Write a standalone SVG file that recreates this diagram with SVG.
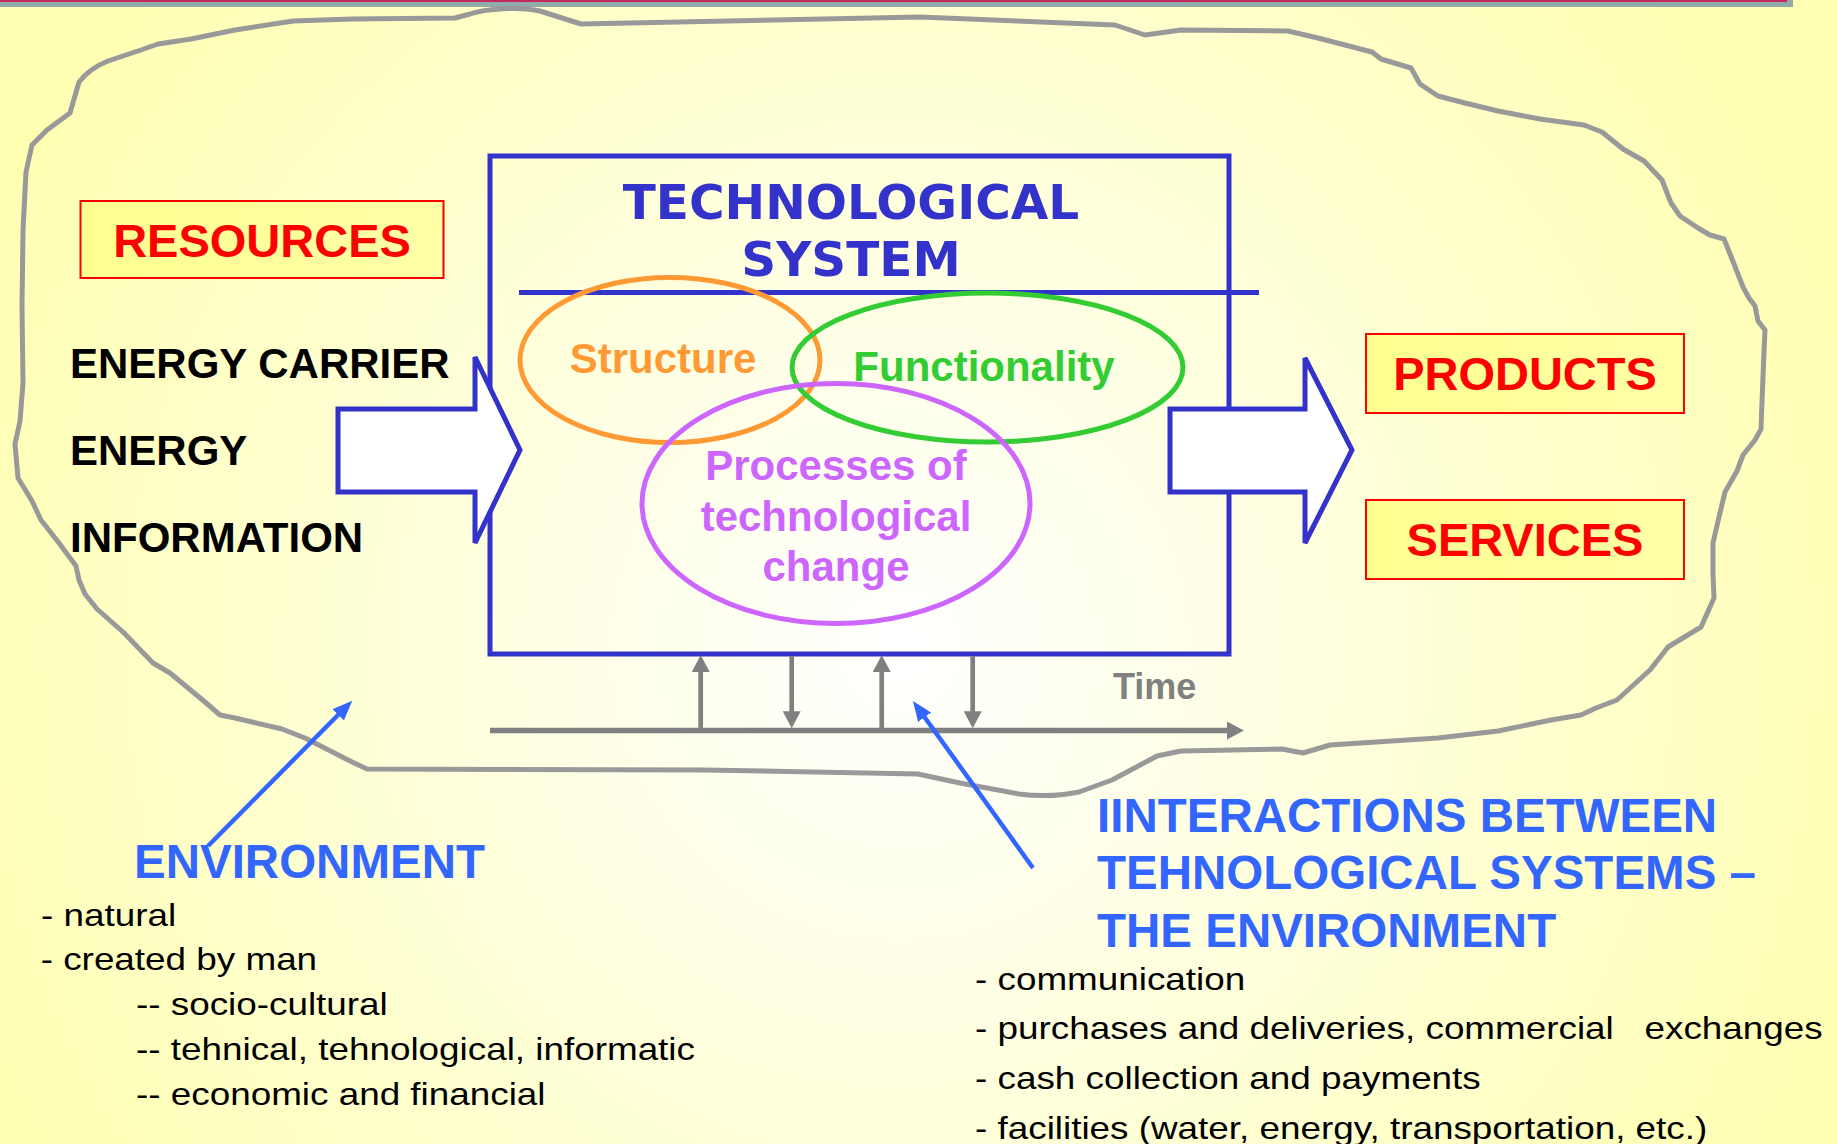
<svg xmlns="http://www.w3.org/2000/svg" width="1837" height="1144" viewBox="0 0 1837 1144">
<defs>
  <radialGradient id="bg" gradientUnits="userSpaceOnUse" cx="900" cy="650" r="1000">
    <stop offset="0" stop-color="#FFFFFF"/>
    <stop offset="1" stop-color="#FFFFB4"/>
  </radialGradient>
  <linearGradient id="boxfill" x1="0" y1="0" x2="1" y2="0">
    <stop offset="0" stop-color="#FFFF90"/>
    <stop offset="1" stop-color="#FFFFA8"/>
  </linearGradient>
  <marker id="blueHead" viewBox="0 0 20 16" refX="4" refY="8" markerWidth="20" markerHeight="16" markerUnits="userSpaceOnUse" orient="auto">
    <path d="M0,0 L20,8 L0,16 z" fill="#3366FF"/>
  </marker>
  <marker id="grayHead" viewBox="0 0 17 18" refX="3" refY="9" markerWidth="17" markerHeight="18" markerUnits="userSpaceOnUse" orient="auto">
    <path d="M0,0 L17,9 L0,18 z" fill="#808080"/>
  </marker>
  <style>
    .bold { font-family: "Liberation Sans", Arial, sans-serif; font-weight: bold; }
    .title { font-family: "DejaVu Sans", Verdana, sans-serif; font-weight: bold; font-size: 48.5px; fill: #3333CC; text-anchor: middle; }
    .label { font-size: 42px; text-anchor: middle; }
    .red { font-size: 47px; fill: #FF0000; text-anchor: middle; }
    .blk { font-size: 42px; fill: #000000; }
    .env { font-size: 47.5px; fill: #3366FF; }
    .list { font-family: "Liberation Sans", Arial, sans-serif; font-size: 31.5px; fill: #000000; }
    .redbox { fill: url(#boxfill); stroke: #FF0000; stroke-width: 2; }
    .blockarrow { fill: #FFFFFF; stroke: #3333CC; stroke-width: 5; stroke-linejoin: miter; }
    .ell { fill: none; stroke-width: 5; }
    .gray { stroke: #808080; fill: none; }
    .blue { stroke: #3366FF; stroke-width: 4.5; fill: none; marker-end: url(#blueHead); }
  </style>
</defs>

<rect x="0" y="0" width="1837" height="1144" fill="url(#bg)"/>

<g id="top-bar">
  <rect x="-2" y="-10" width="1795" height="17" fill="#94AAAA"/>
  <rect x="-2" y="-10" width="1789" height="12" fill="#C42A5C"/>
</g>

<g id="environment-blob">
  <path d="M70,113 L79,82 Q90,68 108,61 L141,50 L158,44 L191,39 L235,30 L293,21 L352,19 L455,18 L470,14 C485,9 520,6 540,11 L581,24 L920,17 L1115,25 L1145,35 L1181,30 L1288,31 L1318,38 L1372,52 L1381,59 L1411,68 L1420,84 L1438,96 L1465,103 L1498,111 L1540,119 L1584,125 L1602,132 L1623,149 L1644,161 L1662,180 L1671,203 L1680,216 L1698,228 L1710,235 L1724,239 L1734,264 L1743,287 L1749,298 L1755,306 L1758,321 L1765,330 L1764,352 L1762,402 L1761,429 L1755,440 L1743,455 L1737,471 L1725,492 L1719,517 L1713,543 L1713,574 L1714,598 L1701,627 L1668,647 L1650,670 L1617,700 L1596,708 L1581,715 L1551,720 L1498,731 L1438,738 L1330,745 L1303,753 L1282,749 L1181,751 L1157,756 L1127,772 L1112,780 L1079,792 Q1050,798 1019,794 L960,783 L918,774 L704,770 L367,769 L352,762 L305,738 L282,729 L235,718 L220,715 L205,702 L170,673 L153,663 L123,632 L97,609 L85,594 L79,580 L76,566 L59,543 L41,520 L32,501 L18,478 L15,444 L20,421 L23,383 L22,306 L23,230 L26,172 L32,145 L47,130 Z" fill="none" stroke="#999999" stroke-width="5" stroke-linejoin="round"/>
</g>

<g id="technological-system">
  <rect x="490" y="156" width="739" height="498" fill="none" stroke="#3333CC" stroke-width="5"/>
  <line x1="519" y1="292.5" x2="1259" y2="292.5" stroke="#3333CC" stroke-width="5"/>
  <text class="title" x="851" y="219">TECHNOLOGICAL</text>
  <text class="title" x="851" y="276">SYSTEM</text>
</g>

<g id="structure">
  <ellipse class="ell" cx="670" cy="360" rx="150" ry="82.5" stroke="#FF9933"/>
  <text class="bold label" x="663" y="373" fill="#FF9933">Structure</text>
</g>

<g id="functionality">
  <ellipse class="ell" cx="987.5" cy="367.5" rx="195.5" ry="74.5" stroke="#33CC33"/>
  <text class="bold label" x="984" y="381" fill="#33CC33">Functionality</text>
</g>

<g id="processes">
  <ellipse class="ell" cx="836" cy="503.5" rx="194" ry="120" stroke="#CC66FF"/>
  <text class="bold label" x="836" y="480" fill="#CC66FF">Processes of</text>
  <text class="bold label" x="836" y="531" fill="#CC66FF">technological</text>
  <text class="bold label" x="836" y="581" fill="#CC66FF">change</text>
</g>

<g id="input-arrow">
  <polygon class="blockarrow" points="338,409 475,409 475,357 520,450 475,543 475,492 338,492"/>
</g>

<g id="output-arrow">
  <polygon class="blockarrow" points="1170,409 1305,409 1305,358 1352,450 1305,543 1305,492 1170,492"/>
</g>

<g id="resources">
  <rect class="redbox" x="80.5" y="201" width="363" height="77"/>
  <text class="bold red" x="262" y="257">RESOURCES</text>
</g>

<g id="inputs">
  <text class="bold blk" x="70" y="378">ENERGY CARRIER</text>
  <text class="bold blk" x="70" y="465">ENERGY</text>
  <text class="bold blk" x="70" y="552">INFORMATION</text>
</g>

<g id="products">
  <rect class="redbox" x="1366" y="334" width="318" height="79"/>
  <text class="bold red" x="1525" y="390">PRODUCTS</text>
</g>

<g id="services">
  <rect class="redbox" x="1366" y="500" width="318" height="79"/>
  <text class="bold red" x="1525" y="556">SERVICES</text>
</g>

<g id="time-axis">
  <text class="bold" x="1113" y="699" font-size="36" fill="#808080">Time</text>
</g>

<g id="environment-label">
  <text class="bold env" x="134" y="878">ENVIRONMENT</text>
  <text class="list" transform="translate(41,925.7) scale(1.17,1)">- natural</text>
  <text class="list" transform="translate(40.7,970) scale(1.17,1)">- created by man</text>
  <text class="list" transform="translate(136,1015) scale(1.17,1)">-- socio-cultural</text>
  <text class="list" transform="translate(136,1060) scale(1.17,1)">-- tehnical, tehnological, informatic</text>
  <text class="list" transform="translate(136,1105) scale(1.17,1)">-- economic and financial</text>
</g>

<g id="interactions-label">
  <text class="bold env" x="1097" y="832">IINTERACTIONS BETWEEN</text>
  <text class="bold env" x="1097" y="889">TEHNOLOGICAL SYSTEMS –</text>
  <text class="bold env" x="1097" y="947">THE ENVIRONMENT</text>
  <text class="list" transform="translate(975,990) scale(1.17,1)">- communication</text>
  <text class="list" xml:space="preserve" transform="translate(975,1039) scale(1.17,1)">- purchases and deliveries, commercial   exchanges</text>
  <text class="list" transform="translate(975,1089) scale(1.17,1)">- cash collection and payments</text>
  <text class="list" transform="translate(975,1139) scale(1.17,1)">- facilities (water, energy, transportation, etc.)</text>
</g>

<g id="connectors">
  <line class="gray" x1="490" y1="730.5" x2="1230" y2="730.5" stroke-width="5.5" marker-end="url(#grayHead)"/>
  <line class="gray" x1="700.7" y1="730" x2="700.7" y2="669" stroke-width="4.7" marker-end="url(#grayHead)"/>
  <line class="gray" x1="791.7" y1="656" x2="791.7" y2="714.3" stroke-width="4.7" marker-end="url(#grayHead)"/>
  <line class="gray" x1="881.7" y1="730" x2="881.7" y2="669" stroke-width="4.7" marker-end="url(#grayHead)"/>
  <line class="gray" x1="972.7" y1="656" x2="972.7" y2="714.3" stroke-width="4.7" marker-end="url(#grayHead)"/>
  <line class="blue" x1="208" y1="846" x2="341" y2="712"/>
  <line class="blue" x1="1033" y1="868" x2="922.3" y2="714"/>
</g>
</svg>
